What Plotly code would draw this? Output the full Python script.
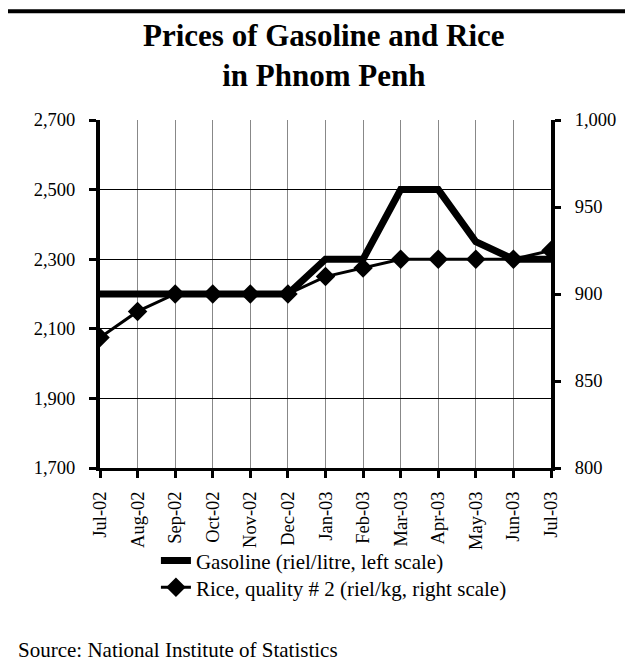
import plotly.graph_objects as go

# data
months = ["Jul-02", "Aug-02", "Sep-02", "Oct-02", "Nov-02", "Dec-02", "Jan-03",
          "Feb-03", "Mar-03", "Apr-03", "May-03", "Jun-03", "Jul-03"]
gasoline = [2200, 2200, 2200, 2200, 2200, 2200, 2300, 2300, 2500, 2500, 2350, 2300, 2300]
rice = [875, 890, 900, 900, 900, 900, 910, 915, 920, 920, 920, 920, 925]

left_ticks = [1700, 1900, 2100, 2300, 2500, 2700]
right_ticks = [800, 850, 900, 950, 1000]

font = "Liberation Serif, Times New Roman, serif"

fig = go.Figure()
fig.add_trace(go.Scatter(
    x=months, y=gasoline, mode="lines",
    name="Gasoline (riel/litre, left scale)",
    line=dict(color="black", width=7),
    legend="legend",
))
fig.add_trace(go.Scatter(
    x=months, y=rice, mode="lines+markers", yaxis="y2",
    name="Rice, quality # 2 (riel/kg, right scale)",
    line=dict(color="black", width=3),
    marker=dict(symbol="diamond", size=15, color="black"),
    legend="legend2",
))

axis_common = dict(
    showline=True, linecolor="black",
    ticks="outside", tickwidth=3, tickcolor="black",
    zeroline=False,
)

fig.update_layout(
    width=633, height=664,
    margin=dict(l=92, r=90, t=112, b=204),
    paper_bgcolor="white", plot_bgcolor="white",
    font=dict(family=font, size=18.5, color="black"),
    showlegend=True,
    legend=dict(x=0.124, y=-0.267, xanchor="left", yanchor="middle",
                font=dict(size=21), bgcolor="rgba(0,0,0,0)"),
    legend2=dict(x=0.124, y=-0.344, xanchor="left", yanchor="middle",
                 font=dict(size=21), bgcolor="rgba(0,0,0,0)"),
    xaxis=dict(
        type="category", range=[0, 12], tickangle=-90,
        showgrid=True, gridcolor="#888", gridwidth=1,
        linewidth=3, ticklen=7, ticklabelstandoff=6,
        **axis_common,
    ),
    yaxis=dict(
        range=[1700, 2700], tickvals=left_ticks, tickformat=",",
        showgrid=True, gridcolor="black", gridwidth=1,
        linewidth=4, ticklen=7, ticklabelstandoff=10,
        **axis_common,
    ),
    yaxis2=dict(
        range=[800, 1000], tickvals=right_ticks, tickformat=",",
        overlaying="y", side="right", showgrid=False,
        linewidth=4, ticklen=6, ticklabelstandoff=10,
        **axis_common,
    ),
    annotations=[
        dict(text="<b>Prices of Gasoline and Rice<br>in Phnom Penh</b>",
             xref="paper", yref="paper", x=0.497, y=1.3,
             xanchor="center", yanchor="top", showarrow=False,
             font=dict(size=31)),
        dict(text="Source: National Institute of Statistics",
             xref="paper", yref="paper", x=-0.186, y=-0.523,
             xanchor="left", yanchor="middle", showarrow=False,
             font=dict(size=21)),
    ],
    shapes=[
        dict(type="line", xref="paper", yref="paper", x0=-0.21, x1=1.21,
             y0=1.3124, y1=1.3124, line=dict(color="black", width=4)),
        dict(type="line", xref="paper", yref="paper", x0=-0.21, x1=1.21,
             y0=-0.5747, y1=-0.5747, line=dict(color="black", width=4)),
    ],
)

fig.write_html("out.html")
